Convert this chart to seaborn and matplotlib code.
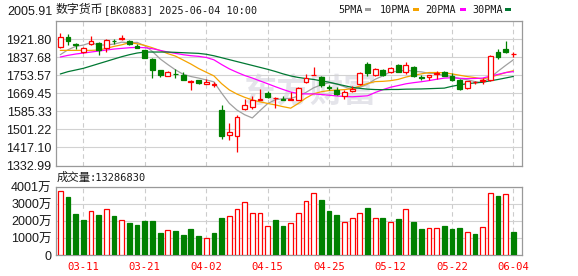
import matplotlib
matplotlib.use("Agg")
import matplotlib.pyplot as plt
from matplotlib.patches import Rectangle
import numpy as np
import pandas as pd
import seaborn as sns

# ---------------- data ----------------
title_name = "数字货币"
title_rest = "[BK0883] 2025-06-04 10:00"
volume_name = "成交量"
volume_rest = ":13286830"
watermark = "东方财富"

date_labels = ["03-11", "03-21", "04-02", "04-15", "04-25", "05-12", "05-22", "06-04"]
date_label_pos = [3, 11, 19, 27, 35, 43, 51, 59]

price_ticks = [1332.99, 1417.10, 1501.22, 1585.33, 1669.45, 1753.57, 1837.68, 1921.80, 2005.91]
price_tick_labels = ["1332.99", "1417.10", "1501.22", "1585.33", "1669.45", "1753.57",
                     "1837.68", "1921.80", "2005.91"]
vol_ticks = [0, 1000, 2000, 3000, 4001]
vol_tick_labels = ["0", "1000万", "2000万", "3000万", "4001万"]

ma_names = ["5PMA", "10PMA", "20PMA", "30PMA"]
ma_colors = ["#a0a0a0", "#f5a300", "#ff00ff", "#007832"]

opens = [1884.6, 1931.0, 1901.0, 1861.4, 1897.0, 1903.0, 1880.0, 1914.0, 1921.8, 1912.5,
         1890.8, 1869.0, 1828.9, 1776.2, 1748.3, 1760.7, 1756.0, 1723.5, 1729.7, 1714.2,
         1709.6, 1593.4, 1475.7, 1469.5, 1596.5, 1605.8, 1640.0, 1671.0, 1646.0, 1643.0,
         1640.0, 1640.0, 1720.4, 1753.0, 1745.0, 1698.7, 1686.4, 1655.4, 1678.6, 1712.7,
         1807.2, 1754.5, 1779.3, 1766.9, 1802.5, 1766.9, 1791.7, 1745.0, 1745.2, 1760.7,
         1766.9, 1751.4, 1732.8, 1694.0, 1720.0, 1726.6, 1729.7, 1859.8, 1876.9, 1850.5]
highs = [1949.7, 1946.0, 1904.0, 1884.6, 1937.0, 1906.0, 1923.0, 1923.0, 1938.8, 1915.6,
         1900.0, 1872.0, 1833.5, 1779.3, 1771.5, 1782.4, 1766.9, 1732.8, 1732.8, 1735.9,
         1723.5, 1614.0, 1531.5, 1570.0, 1644.5, 1658.5, 1689.5, 1679.0, 1652.0, 1658.5,
         1674.0, 1697.0, 1760.7, 1790.0, 1748.0, 1709.6, 1697.0, 1686.4, 1705.0, 1766.9,
         1816.5, 1788.6, 1782.4, 1791.7, 1807.0, 1816.5, 1794.8, 1756.0, 1756.0, 1771.5,
         1771.5, 1763.8, 1736.0, 1728.0, 1728.0, 1740.6, 1849.0, 1875.3, 1911.0, 1863.0]
lows = [1881.5, 1895.0, 1875.0, 1856.7, 1894.0, 1849.0, 1861.0, 1900.0, 1915.6, 1894.0,
        1880.0, 1832.0, 1740.6, 1745.2, 1748.0, 1740.6, 1729.7, 1683.3, 1714.2, 1712.7,
        1698.7, 1455.0, 1450.9, 1395.0, 1593.4, 1596.5, 1640.0, 1647.7, 1601.0, 1637.0,
        1638.0, 1637.0, 1717.3, 1753.0, 1698.7, 1683.3, 1661.6, 1643.0, 1674.0, 1709.6,
        1748.3, 1751.4, 1748.3, 1763.8, 1767.0, 1760.7, 1745.0, 1732.8, 1729.7, 1736.0,
        1748.3, 1726.6, 1686.4, 1691.0, 1714.0, 1712.7, 1726.6, 1829.0, 1856.7, 1839.7]
closes = [1931.1, 1911.0, 1892.0, 1880.0, 1912.5, 1872.0, 1915.6, 1912.0, 1924.9, 1898.6,
          1881.5, 1835.0, 1779.0, 1753.0, 1766.9, 1757.6, 1732.8, 1726.6, 1717.3, 1723.5,
          1712.7, 1472.6, 1488.1, 1559.3, 1615.0, 1636.8, 1643.0, 1652.0, 1649.0, 1640.0,
          1644.5, 1694.0, 1740.6, 1756.0, 1709.6, 1692.6, 1664.7, 1674.0, 1691.0, 1763.8,
          1762.0, 1782.4, 1753.0, 1787.0, 1770.0, 1799.4, 1748.3, 1740.6, 1753.0, 1763.8,
          1751.4, 1729.7, 1689.5, 1725.0, 1723.0, 1729.7, 1844.3, 1838.1, 1861.4, 1853.6]
volumes = [3750, 3400, 2400, 2050, 2560, 2340, 2680, 2290, 2030, 1875,
           1760, 1990, 1990, 1290, 1445, 1400, 1170, 1520, 1110, 980,
           1290, 2170, 2290, 2730, 3090, 2500, 2460, 1700, 2050, 1700,
           1875, 2500, 3160, 3670, 3220, 2580, 2340, 1930, 2150, 2500,
           2750, 2150, 2170, 1970, 2110, 2680, 1930, 1520, 1560, 1560,
           1700, 1520, 1580, 1350, 1230, 1640, 3670, 3480, 3570, 1350]

ma5 = [1849.0, 1872.0, 1887.7, 1893.9, 1905.3, 1893.5, 1894.4, 1898.4, 1907.4, 1904.6,
       1906.5, 1890.4, 1863.8, 1829.4, 1803.1, 1778.3, 1757.9, 1747.4, 1740.2, 1731.6,
       1722.6, 1670.5, 1622.8, 1591.2, 1569.5, 1554.4, 1588.4, 1621.2, 1639.2, 1644.2,
       1645.7, 1655.9, 1673.6, 1695.0, 1708.9, 1718.6, 1712.7, 1699.4, 1686.4, 1697.2,
       1711.1, 1734.6, 1750.4, 1769.6, 1770.9, 1778.4, 1771.5, 1769.1, 1762.3, 1761.0,
       1751.4, 1747.7, 1737.5, 1731.9, 1723.7, 1719.4, 1742.3, 1772.0, 1799.3, 1825.4]
ma10 = [1869.1, 1869.1, 1869.1, 1869.1, 1869.1, 1870.7, 1878.4, 1887.7, 1895.0, 1905.0,
        1900.0, 1892.4, 1881.1, 1868.4, 1853.9, 1842.4, 1824.1, 1805.6, 1784.8, 1767.3,
        1750.4, 1714.2, 1685.1, 1665.7, 1650.6, 1638.5, 1629.5, 1622.0, 1615.2, 1606.9,
        1600.0, 1622.2, 1647.4, 1667.1, 1676.6, 1682.1, 1684.3, 1686.5, 1690.7, 1703.1,
        1714.8, 1723.7, 1724.9, 1728.0, 1734.0, 1744.7, 1753.1, 1759.7, 1765.9, 1765.9,
        1764.9, 1759.6, 1753.3, 1747.1, 1742.3, 1735.3, 1744.9, 1754.7, 1765.5, 1774.5]
ma20 = [1838.2, 1845.9, 1852.1, 1856.7, 1861.4, 1866.0, 1870.7, 1875.3, 1878.4, 1881.5,
        1883.1, 1881.5, 1876.9, 1869.1, 1861.4, 1855.2, 1849.0, 1844.3, 1841.3, 1836.1,
        1825.2, 1803.3, 1783.1, 1767.1, 1752.2, 1740.4, 1726.8, 1713.8, 1700.0, 1687.1,
        1675.2, 1668.2, 1666.3, 1666.4, 1663.6, 1660.3, 1656.9, 1654.3, 1653.0, 1655.0,
        1657.4, 1672.9, 1686.2, 1697.5, 1705.3, 1713.4, 1718.7, 1723.1, 1728.3, 1734.5,
        1739.9, 1741.6, 1739.1, 1737.6, 1738.3, 1740.1, 1749.1, 1757.3, 1765.8, 1770.3]
ma30 = [1759.2, 1770.0, 1777.7, 1785.5, 1796.3, 1807.2, 1818.0, 1828.9, 1839.7, 1849.0,
        1856.7, 1861.4, 1861.4, 1861.4, 1861.4, 1859.8, 1858.3, 1856.7, 1855.2, 1851.0,
        1844.0, 1835.0, 1826.0, 1817.0, 1808.0, 1799.0, 1790.0, 1781.0, 1771.0, 1759.7,
        1750.2, 1742.9, 1737.9, 1733.7, 1727.0, 1721.0, 1712.6, 1704.7, 1696.9, 1692.4,
        1688.5, 1686.7, 1685.9, 1687.0, 1687.1, 1688.5, 1689.0, 1689.5, 1690.7, 1692.0,
        1693.3, 1701.9, 1708.6, 1714.0, 1717.6, 1720.7, 1727.4, 1733.6, 1740.7, 1747.8]

# ---------------- style ----------------
sns.set_theme(style="white")
plt.rcParams["font.family"] = ["Liberation Sans", "Noto Sans CJK SC", "DejaVu Sans"]
plt.rcParams["axes.unicode_minus"] = False

RED = "#ff0000"
GREEN = "#008000"
TXT = "#1a1a1a"
MONO = ["DejaVu Sans Mono", "Noto Sans CJK SC"]
CJK = ["Noto Sans CJK SC", "DejaVu Sans"]

W, H = 578, 276
fig = plt.figure(figsize=(W / 100, H / 100), dpi=100)
fig.patch.set_facecolor("white")


def fx(px):
    return px / W


def fy(py):
    return 1 - py / H


L, R = 55.7, 522.3
ax = fig.add_axes([fx(L), fy(165.5), (R - L) / W, (165.5 - 21) / H])
axv = fig.add_axes([fx(L), fy(255), (R - L) / W, (255 - 187) / H])

df = pd.DataFrame({
    "i": np.arange(len(closes)), "open": opens, "high": highs, "low": lows,
    "close": closes, "vol": volumes,
    "5PMA": ma5, "10PMA": ma10, "20PMA": ma20, "30PMA": ma30,
})
up = (df["close"] >= df["open"]).to_numpy()
prev_close = df["close"].shift(1).fillna(df["open"])
df["vup"] = df["close"] >= prev_close

# ---------------- main candlestick panel ----------------
ax.text(0.545, 0.50, watermark, transform=ax.transAxes, fontsize=24, color="#e4e4ea",
        fontweight="bold", ha="center", va="center", family=CJK, zorder=0.5)

for name, col in zip(ma_names, ma_colors):
    sns.lineplot(data=df, x="i", y=name, color=col, lw=0.9, ax=ax, zorder=2,
                 errorbar=None, legend=False)

ax.vlines(df["i"], df["low"], df["high"], colors=np.where(up, RED, GREEN),
          lw=0.9, zorder=3)
body_bottom = np.minimum(df["open"], df["close"])
body_h = np.maximum((df["close"] - df["open"]).abs(), 0.8)
ax.bar(df["i"], body_h, bottom=body_bottom, width=0.62,
       color=np.where(up, "white", GREEN), edgecolor=np.where(up, RED, GREEN),
       lw=0.9, zorder=4)

# ---------------- volume panel ----------------
sns.barplot(data=df[df["vup"]], x="i", y="vol", native_scale=True, width=0.62,
            color="white", edgecolor=RED, linewidth=0.9, saturation=1,
            errorbar=None, ax=axv, zorder=3)
sns.barplot(data=df[~df["vup"]], x="i", y="vol", native_scale=True, width=0.62,
            color=GREEN, edgecolor=GREEN, linewidth=0.9, saturation=1,
            errorbar=None, ax=axv, zorder=3)

# ---------------- axes styling ----------------
for a in (ax, axv):
    a.set_xlim(-0.6, 60.16)
    a.set_xlabel("")
    a.set_ylabel("")
    a.set_xticks(date_label_pos)
    a.set_axisbelow(True)
    a.grid(True, axis="y", color="#d2d2d2", lw=0.8, ls="-")
    a.grid(True, axis="x", color="#cccccc", lw=0.8, ls=(0, (4, 3)))
    a.tick_params(axis="both", length=0, pad=3, labelsize=9, labelcolor=TXT)
    for s in a.spines.values():
        s.set_color("#999999")
        s.set_linewidth(0.9)

ax.set_ylim(price_ticks[0], price_ticks[-1])
ax.set_yticks(price_ticks)
ax.set_yticklabels(price_tick_labels[:-1] + [""])
ax.tick_params(axis="x", labelbottom=False)

axv.set_ylim(vol_ticks[0], vol_ticks[-1])
axv.set_yticks(vol_ticks)
axv.set_yticklabels(vol_tick_labels)
axv.set_xticklabels(date_labels, color=RED, family=MONO, fontsize=7.6)
axv.tick_params(axis="x", pad=5)

# top price label sits above the frame
fig.text(fx(52.5), fy(12), price_tick_labels[-1], ha="right", va="center",
         fontsize=9, color=TXT)

# ---------------- header texts ----------------
fig.text(fx(56), fy(12.8), title_name, family=CJK, fontsize=8.6, color=TXT, va="baseline")
fig.text(fx(104), fy(12.8), title_rest, family=MONO, fontsize=7.3, color=TXT, va="baseline")

legend_text_x = [338, 380, 425, 472]
legend_sq_x = [365, 413, 460, 505]
for name, col, tx, sx in zip(ma_names, ma_colors, legend_text_x, legend_sq_x):
    fig.text(fx(tx), fy(12.8), name, family=MONO, fontsize=7.3, color=TXT, va="baseline")
    fig.add_artist(Rectangle((fx(sx), fy(11)), 6 / W, 3.5 / H,
                             transform=fig.transFigure, color=col, lw=0))

fig.text(fx(57), fy(181), volume_name, family=CJK, fontsize=8.2, color=TXT, va="baseline")
fig.text(fx(90), fy(181), volume_rest, family=MONO, fontsize=7.5, color=TXT, va="baseline")

fig.savefig("out.png", dpi=100, facecolor="white")
